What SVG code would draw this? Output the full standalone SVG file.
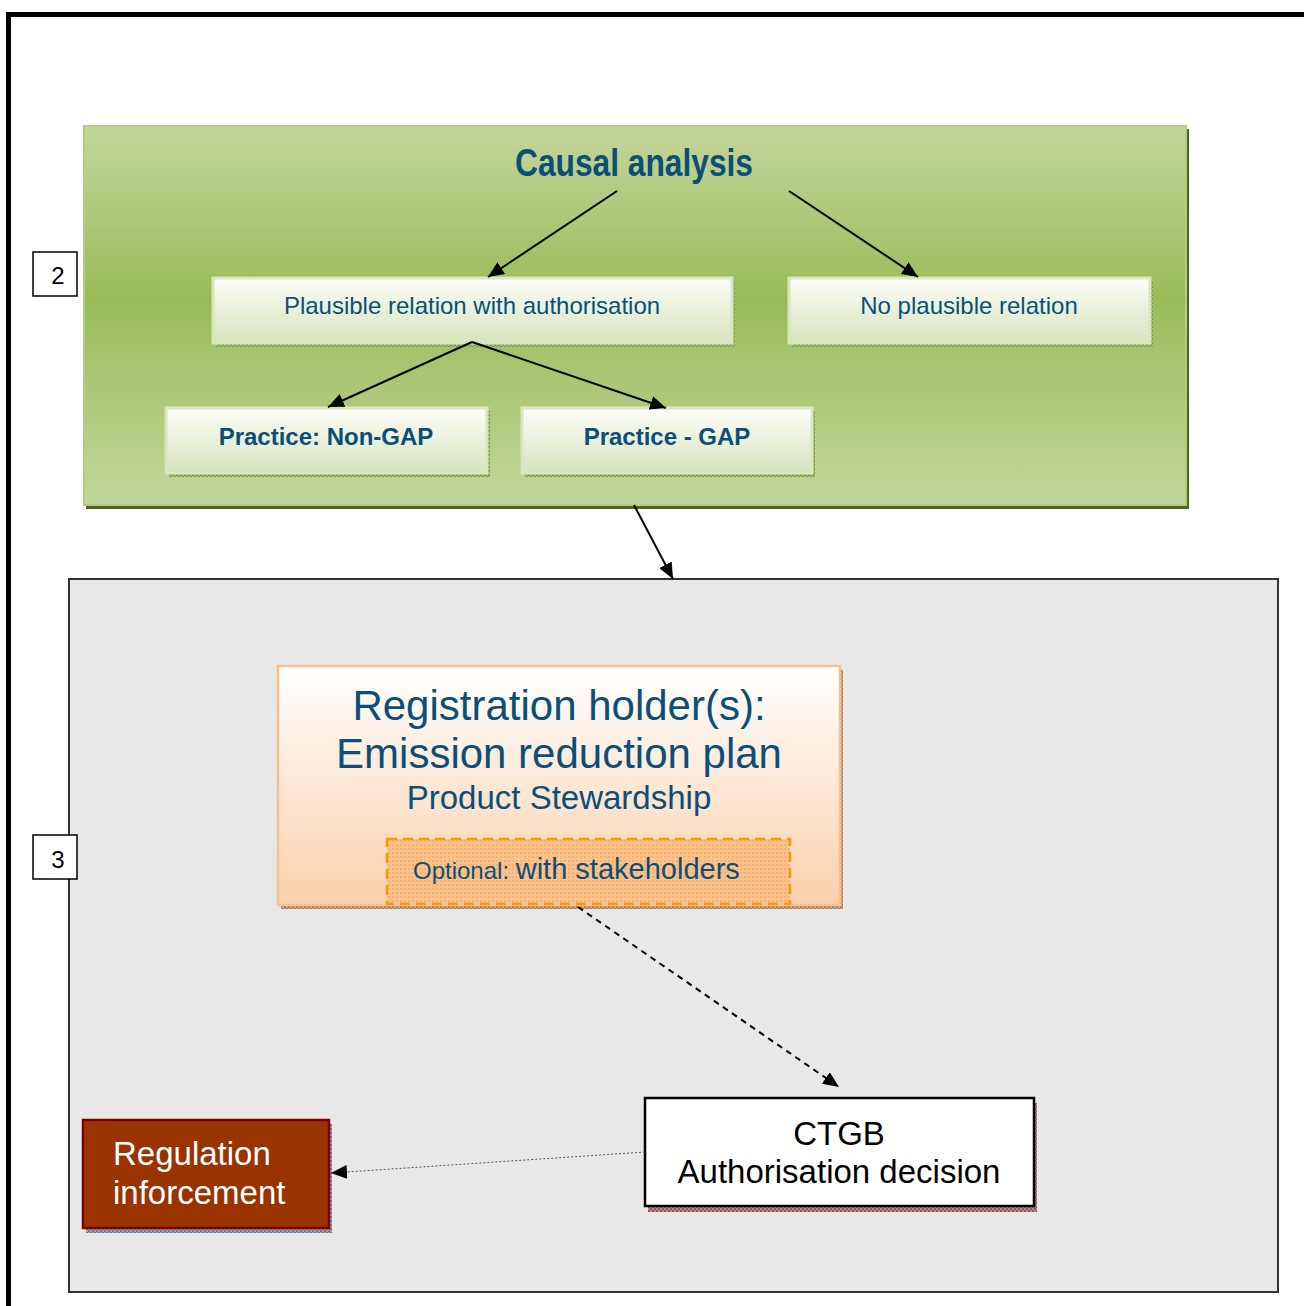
<svg xmlns="http://www.w3.org/2000/svg" width="1304" height="1306" viewBox="0 0 1304 1306">
<defs>
<linearGradient id="gGreen" x1="0" y1="0" x2="0" y2="1">
<stop offset="0" stop-color="#c3d69b"/>
<stop offset="0.45" stop-color="#9bbb59"/>
<stop offset="1" stop-color="#c3d69b"/>
</linearGradient>
<linearGradient id="gBox" x1="0" y1="0" x2="0" y2="1">
<stop offset="0" stop-color="#fcfdf9"/>
<stop offset="1" stop-color="#d7e4bc"/>
</linearGradient>
<linearGradient id="gOrange" x1="0" y1="0" x2="0" y2="1">
<stop offset="0" stop-color="#ffffff"/>
<stop offset="1" stop-color="#fbd0ac"/>
</linearGradient>
<pattern id="pGreen" width="4" height="4" patternUnits="userSpaceOnUse">
<rect width="4" height="4" fill="#7f9c4a"/>
<rect width="2" height="2" fill="#a4bd73"/>
<rect x="2" y="2" width="2" height="2" fill="#a4bd73"/>
</pattern>
<pattern id="pBrown" width="4" height="4" patternUnits="userSpaceOnUse">
<rect width="4" height="4" fill="#a07a5e"/>
<rect width="2" height="2" fill="#c8a488"/>
<rect x="2" y="2" width="2" height="2" fill="#c8a488"/>
</pattern>
<pattern id="pRed" width="4" height="4" patternUnits="userSpaceOnUse">
<rect width="4" height="4" fill="#8e5c5c"/>
<rect width="2" height="2" fill="#b88a8a"/>
<rect x="2" y="2" width="2" height="2" fill="#b88a8a"/>
</pattern>
<pattern id="pBlue" width="4" height="4" patternUnits="userSpaceOnUse">
<rect width="4" height="4" fill="#6a7a94"/>
<rect width="2" height="2" fill="#98a6bc"/>
<rect x="2" y="2" width="2" height="2" fill="#98a6bc"/>
</pattern>
<pattern id="pOpt" width="4" height="4" patternUnits="userSpaceOnUse">
<rect width="4" height="4" fill="#fbc38c"/>
<rect width="2" height="2" fill="#f8b070"/>
</pattern>
<marker id="ah" viewBox="0 0 16 14" refX="16" refY="7" markerWidth="16" markerHeight="14" markerUnits="userSpaceOnUse" orient="auto">
<path d="M0,0 L16,7 L0,14 Z" fill="#000"/>
</marker>
</defs>
<style>
.t { font-family: "Liberation Sans", Arial, sans-serif; }
.blue { fill: #0b4f79; }
.sm { fill: url(#gBox); stroke: #d9e6c0; stroke-width: 3; }
.conn { stroke: #000; stroke-width: 2; fill: none; marker-end: url(#ah); }
.lbl { fill: #fff; stroke: #000; stroke-width: 1.5; }
</style>
<rect width="1304" height="1306" fill="#fff"/>
<g id="frame">
<path d="M8.5,1310 V14.5 H1310" fill="none" stroke="#000" stroke-width="5"/>
</g>
<g id="causal-analysis">
<rect x="86" y="129" width="1103" height="380" fill="#4f6228"/>
<rect x="84" y="126" width="1102" height="379" fill="url(#gGreen)" stroke="#b3cc80" stroke-width="2"/>
<text class="t blue" x="634" y="176" font-size="38" font-weight="bold" text-anchor="middle" textLength="238" lengthAdjust="spacingAndGlyphs">Causal analysis</text>
</g>
<g id="plausible">
<rect x="216" y="281" width="519" height="66" fill="url(#pGreen)"/>
<rect x="213" y="278" width="519" height="65" class="sm"/>
<text class="t blue" x="472" y="314" font-size="24" text-anchor="middle">Plausible relation with authorisation</text>
</g>
<g id="no-plausible">
<rect x="792" y="281" width="361" height="66" fill="url(#pGreen)"/>
<rect x="789" y="278" width="361" height="65" class="sm"/>
<text class="t blue" x="969" y="314" font-size="24" text-anchor="middle">No plausible relation</text>
</g>
<g id="non-gap">
<rect x="169" y="411" width="321" height="66" fill="url(#pGreen)"/>
<rect x="166" y="408" width="321" height="65" class="sm"/>
<text class="t blue" x="326" y="445" font-size="24" font-weight="bold" text-anchor="middle">Practice: Non-GAP</text>
</g>
<g id="gap">
<rect x="525" y="411" width="290" height="66" fill="url(#pGreen)"/>
<rect x="522" y="408" width="290" height="65" class="sm"/>
<text class="t blue" x="667" y="445" font-size="24" font-weight="bold" text-anchor="middle">Practice - GAP</text>
</g>
<g id="label-2">
<rect x="33" y="252" width="44" height="44" class="lbl"/>
<text class="t" x="58" y="284" font-size="24" text-anchor="middle" fill="#000">2</text>
</g>
<g id="phase-3">
<rect x="69" y="579" width="1209" height="713" fill="#e8e8e8" stroke="#333" stroke-width="2"/>
</g>
<g id="label-3">
<rect x="33" y="835" width="44" height="44" class="lbl"/>
<text class="t" x="58" y="868" font-size="24" text-anchor="middle" fill="#000">3</text>
</g>
<g id="registration">
<rect x="281" y="670" width="562" height="239" fill="url(#pBrown)"/>
<rect x="278" y="666" width="562" height="239" fill="url(#gOrange)" stroke="#fac090" stroke-width="2.5"/>
<text class="t blue" x="559" y="720" font-size="42" text-anchor="middle">Registration holder(s):</text>
<text class="t blue" x="559" y="768" font-size="42" text-anchor="middle">Emission reduction plan</text>
<text class="t blue" x="559" y="809" font-size="33" text-anchor="middle">Product Stewardship</text>
<rect x="387" y="839" width="403" height="65" fill="url(#pOpt)" stroke="#ff9900" stroke-width="2.5" stroke-dasharray="10,6"/>
<text class="t blue" x="413" y="879" font-size="24">Optional: <tspan font-size="29">with stakeholders</tspan></text>
</g>
<g id="ctgb">
<rect x="648" y="1103" width="389" height="109" fill="url(#pRed)"/>
<rect x="645" y="1098" width="389" height="108" fill="#fff" stroke="#000" stroke-width="2.5"/>
<text class="t" x="839" y="1145" font-size="33" text-anchor="middle" fill="#000">CTGB</text>
<text class="t" x="839" y="1183" font-size="33" text-anchor="middle" fill="#000">Authorisation decision</text>
</g>
<g id="regulation">
<rect x="86" y="1124" width="246" height="109" fill="url(#pBlue)"/>
<rect x="83" y="1120" width="246" height="108" fill="#993300" stroke="#800000" stroke-width="2.5"/>
<text class="t" x="113" y="1165" font-size="33" fill="#fff">Regulation</text>
<text class="t" x="113" y="1204" font-size="33" fill="#fff">inforcement</text>
</g>
<g id="connectors">
<line class="conn" x1="617" y1="191" x2="488" y2="277"/>
<line class="conn" x1="789" y1="191" x2="918" y2="277"/>
<line class="conn" x1="472" y1="342" x2="328" y2="407"/>
<line class="conn" x1="472" y1="342" x2="666" y2="408"/>
<line class="conn" x1="634" y1="505" x2="673" y2="579"/>
<line class="conn" x1="578" y1="907" x2="839" y2="1087" stroke-dasharray="6,5"/>
<line x1="645" y1="1152" x2="331" y2="1173" stroke="#555" stroke-width="1" stroke-dasharray="2,2" marker-end="url(#ah)"/>
</g>
</svg>
